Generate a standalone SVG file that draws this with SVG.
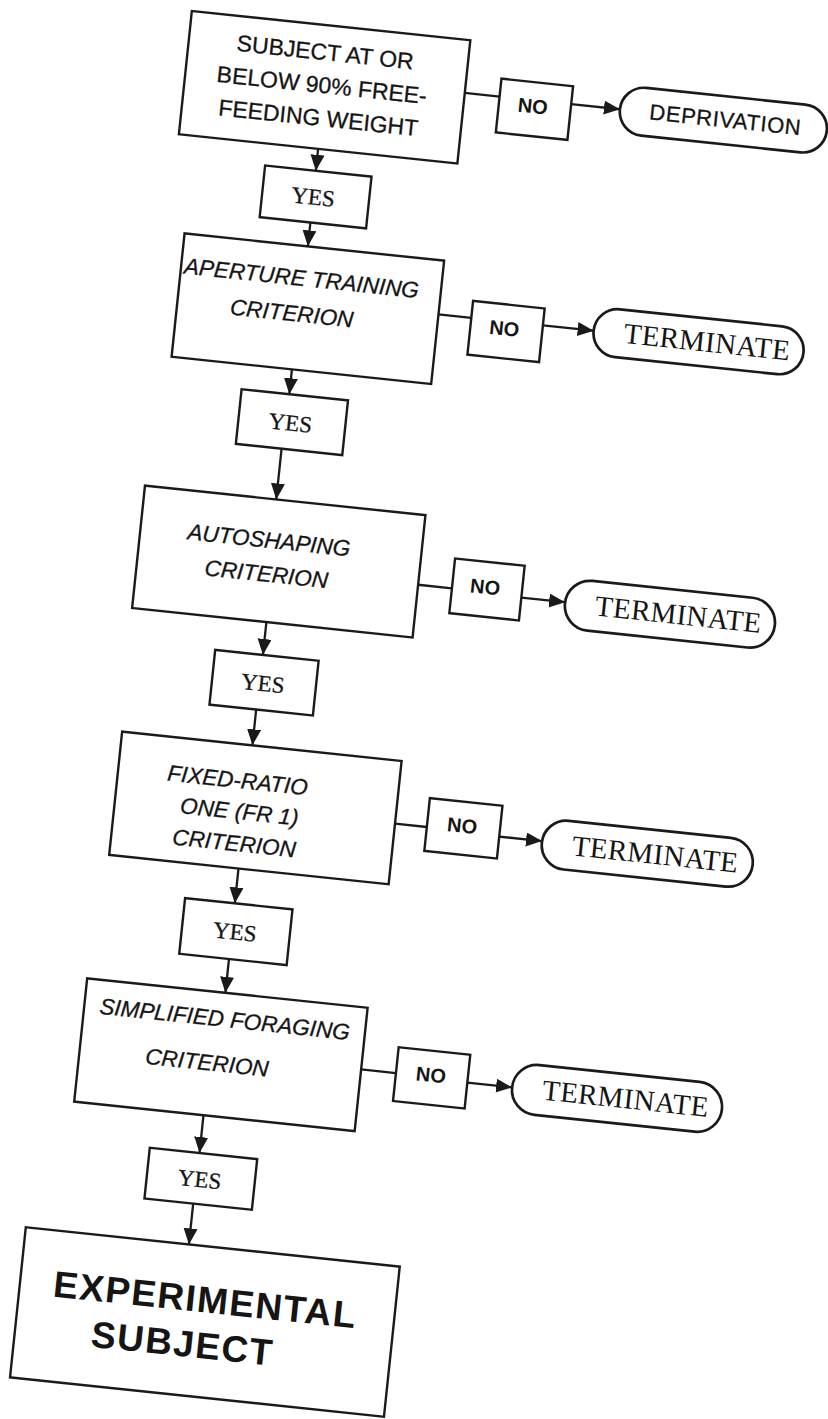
<svg xmlns="http://www.w3.org/2000/svg" width="828" height="1419" viewBox="0 0 828 1419">
<style>
.box{fill:none;stroke:#1a1a1a;stroke-width:2.4}
.term{fill:none;stroke:#1a1a1a;stroke-width:2.7}
.ln{fill:none;stroke:#1a1a1a;stroke-width:2.3}
.t{font-family:"Liberation Sans",Arial,sans-serif;font-size:23px;fill:#151515;stroke:#151515;stroke-width:0.3;text-anchor:middle}
.it{font-family:"Liberation Sans",Arial,sans-serif;font-size:22.5px;font-style:italic;fill:#151515;stroke:#151515;stroke-width:0.3;text-anchor:middle}
.yes{font-family:"Liberation Serif","Times New Roman",serif;font-size:23px;fill:#151515;stroke:#151515;stroke-width:0.3;text-anchor:middle}
.no{font-family:"Liberation Sans",Arial,sans-serif;font-size:20px;font-weight:bold;fill:#151515;text-anchor:middle}
.tm{font-family:"Liberation Serif","Times New Roman",serif;font-size:29px;fill:#151515;text-anchor:middle;letter-spacing:0.3px}
.big{font-family:"Liberation Sans",Arial,sans-serif;font-size:37px;font-weight:bold;fill:#151515;text-anchor:middle;letter-spacing:1.5px}
</style>
<defs>
<marker id="ah" markerUnits="userSpaceOnUse" markerWidth="17" markerHeight="15" refX="16" refY="7" orient="auto">
<path d="M0,0 L16,7 L0,14 z" fill="#1a1a1a"/>
</marker>
</defs>
<rect width="828" height="1419" fill="#ffffff"/>
<g transform="rotate(6 414 710)">
<g id="connectors">
<line class="ln" x1="400" y1="91" x2="435" y2="91"/>
<line class="ln" x1="507" y1="91" x2="556" y2="91" marker-end="url(#ah)"/>
<line class="ln" x1="260" y1="162" x2="260" y2="184" marker-end="url(#ah)"/>
<line class="ln" x1="260" y1="236" x2="260" y2="260" marker-end="url(#ah)"/>
<line class="ln" x1="397" y1="314" x2="430" y2="314"/>
<line class="ln" x1="502" y1="314" x2="553" y2="314" marker-end="url(#ah)"/>
<line class="ln" x1="257" y1="384" x2="257" y2="409" marker-end="url(#ah)"/>
<line class="ln" x1="255" y1="464" x2="255" y2="515" marker-end="url(#ah)"/>
<line class="ln" x1="405" y1="585" x2="439" y2="585"/>
<line class="ln" x1="509" y1="587" x2="553" y2="587" marker-end="url(#ah)"/>
<line class="ln" x1="258" y1="638" x2="258" y2="671" marker-end="url(#ah)"/>
<line class="ln" x1="257" y1="726" x2="257" y2="762" marker-end="url(#ah)"/>
<line class="ln" x1="407" y1="825" x2="439" y2="825"/>
<line class="ln" x1="512" y1="827" x2="555" y2="827" marker-end="url(#ah)"/>
<line class="ln" x1="256" y1="886" x2="256" y2="921" marker-end="url(#ah)"/>
<line class="ln" x1="256" y1="977" x2="256" y2="1011" marker-end="url(#ah)"/>
<line class="ln" x1="399" y1="1073" x2="434" y2="1073"/>
<line class="ln" x1="506" y1="1075" x2="551" y2="1075" marker-end="url(#ah)"/>
<line class="ln" x1="247" y1="1135" x2="247" y2="1173" marker-end="url(#ah)"/>
<line class="ln" x1="246" y1="1224" x2="246" y2="1265" marker-end="url(#ah)"/>
</g>
<g id="n-weight">
<rect class="box" x="120" y="38" width="280" height="124"/>
<text class="t" x="257" y="73">SUBJECT AT OR</text>
<text class="t" x="257" y="106">BELOW 90% FREE-</text>
<text class="t" x="257" y="139">FEEDING WEIGHT</text>
</g>
<g id="n-no1">
<rect class="box" x="435" y="73" width="72" height="54"/>
<text class="no" x="469" y="104">NO</text>
</g>
<g id="n-deprivation">
<rect class="term" x="556" y="67" width="208" height="48" rx="24"/>
<text class="t" x="662" y="98" style="font-size:22px;letter-spacing:0.6px">DEPRIVATION</text>
</g>
<g id="n-yes1">
<rect class="box" x="209" y="184" width="107" height="52"/>
<text class="yes" x="260" y="218">YES</text>
</g>
<g id="n-aperture">
<rect class="box" x="136" y="260" width="261" height="124"/>
<text class="it" x="257" y="300">APERTURE TRAINING</text>
<text class="it" x="251" y="336">CRITERION</text>
</g>
<g id="n-no2">
<rect class="box" x="430" y="297" width="72" height="54"/>
<text class="no" x="464" y="328">NO</text>
</g>
<g id="n-term1">
<rect class="term" x="553" y="290" width="211" height="48" rx="24"/>
<text class="tm" x="667" y="323">TERMINATE</text>
</g>
<g id="n-yes2">
<rect class="box" x="209" y="409" width="107" height="55"/>
<text class="yes" x="261" y="445">YES</text>
</g>
<g id="n-autoshaping">
<rect class="box" x="123" y="515" width="282" height="123"/>
<text class="it" x="252" y="564">AUTOSHAPING</text>
<text class="it" x="253" y="598">CRITERION</text>
</g>
<g id="n-no3">
<rect class="box" x="439" y="555" width="70" height="55"/>
<text class="no" x="472" y="587">NO</text>
</g>
<g id="n-term2">
<rect class="term" x="553" y="563" width="211" height="50" rx="25"/>
<text class="tm" x="667" y="597">TERMINATE</text>
</g>
<g id="n-yes3">
<rect class="box" x="210" y="671" width="104" height="55"/>
<text class="yes" x="261" y="707">YES</text>
</g>
<g id="n-fr1">
<rect class="box" x="126" y="762" width="281" height="124"/>
<text class="it" x="246" y="806">FIXED-RATIO</text>
<text class="it" x="251" y="837">ONE (FR 1)</text>
<text class="it" x="249" y="869">CRITERION</text>
</g>
<g id="n-no4">
<rect class="box" x="439" y="796" width="73" height="53"/>
<text class="no" x="474" y="827">NO</text>
</g>
<g id="n-term3">
<rect class="term" x="555" y="804" width="212" height="49" rx="24.5"/>
<text class="tm" x="669" y="838">TERMINATE</text>
</g>
<g id="n-yes4">
<rect class="box" x="206" y="921" width="108" height="56"/>
<text class="yes" x="259" y="957">YES</text>
</g>
<g id="n-foraging">
<rect class="box" x="117" y="1011" width="282" height="124"/>
<text class="it" x="258" y="1045">SIMPLIFIED FORAGING</text>
<text class="it" x="245" y="1090">CRITERION</text>
</g>
<g id="n-no5">
<rect class="box" x="434" y="1047" width="72" height="54"/>
<text class="no" x="469" y="1078">NO</text>
</g>
<g id="n-term4">
<rect class="term" x="551" y="1050" width="211" height="50" rx="25"/>
<text class="tm" x="665" y="1084">TERMINATE</text>
</g>
<g id="n-yes5">
<rect class="box" x="197" y="1173" width="108" height="51"/>
<text class="yes" x="250" y="1207">YES</text>
</g>
<g id="n-experimental">
<rect class="box" x="82" y="1265" width="376" height="151"/>
<text class="big" x="268" y="1331">EXPERIMENTAL</text>
<text class="big" x="250" y="1377">SUBJECT</text>
</g>
</g>
</svg>
